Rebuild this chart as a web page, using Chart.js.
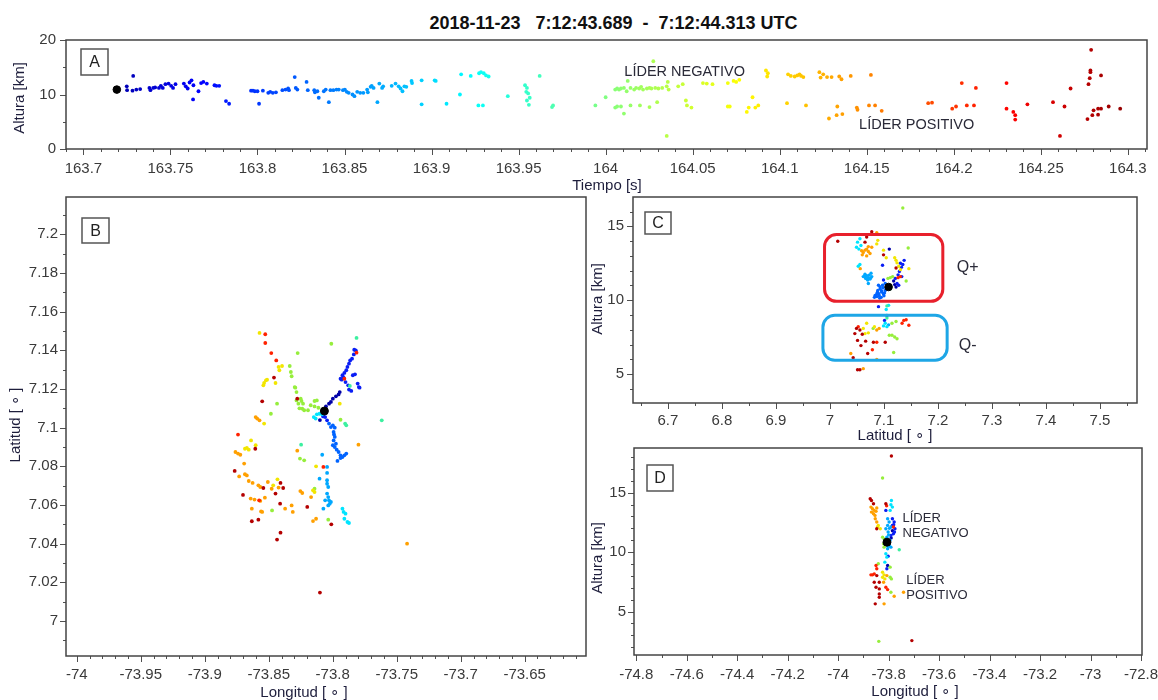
<!DOCTYPE html>
<html><head><meta charset="utf-8">
<script src="https://cdn.jsdelivr.net/npm/chart.js@4.4.1/dist/chart.umd.min.js"></script>
<style>
html,body{margin:0;padding:0;background:#fff;}
body{width:1158px;height:700px;position:relative;overflow:hidden;font-family:"Liberation Sans",Arial,sans-serif;}
canvas{position:absolute;}
#title{position:absolute;left:0;top:13px;width:1227px;text-align:center;font:bold 18px "Liberation Sans",Arial,sans-serif;color:#111;white-space:pre;line-height:20px;}
</style>
</head><body>
<div id="title">2018-11-23   7:12:43.689  -  7:12:44.313 UTC</div>
<canvas id="cA"></canvas><canvas id="cB"></canvas><canvas id="cC"></canvas><canvas id="cD"></canvas>
<script>
// ---------------- DATA ----------------
// Panel A : time [s] vs altitude [km]
const A_time = [
163.7249,163.7251,163.7286,163.7282,163.7304,163.7326,163.7379,163.7385,163.7401,163.7412,163.7434,163.7445,163.7456,163.7471,163.7489,163.7504,163.7515,163.7529,163.7577,163.7588,163.7599,163.7610,163.7621,163.7630,163.7632,163.7661,163.7676,163.7689,163.7709,163.7753,163.7764,163.7780,163.7819,163.7837,
163.7963,163.7974,163.7985,163.8000,163.8009,163.8031,163.8062,163.8073,163.8088,163.8106,163.8143,163.8161,163.8176,163.8181,163.8214,163.8220,163.8229,163.8282,163.8289,163.8326,163.8330,163.8344,163.8352,163.8381,163.8392,163.8410,163.8419,163.8436,163.8454,163.8467,163.8491,163.8502,163.8513,163.8524,163.8546,163.8557,163.8573,163.8590,163.8608,163.8630,163.8634,163.8650,163.8656,163.8667,163.8689,163.8700,163.8716,163.8722,163.8771,163.8793,163.8811,163.8822,163.8833,163.8844,163.8855,163.8885,163.8888,163.8943,163.8943,163.9018,163.9024,163.9086,163.9163,163.9170,163.9225,163.9273,163.9284,163.9300,163.9313,163.9328,163.9295,163.9269,163.9438,163.9537,163.9548,163.9544,163.9555,163.9564,163.9548,163.9559,163.9621,163.9692,163.9698,
163.9941,164.0000,164.0055,164.0066,164.0077,164.0088,164.0105,164.0121,164.0127,164.0143,164.0164,164.0175,164.0193,164.0204,164.0215,164.0237,164.0252,164.0263,164.0274,164.0285,164.0303,164.0325,164.0351,164.0357,164.0362,164.0417,164.0443,164.0055,164.0066,164.0088,164.0105,164.0143,164.0197,164.0252,164.0296,164.0351,164.0461,164.0467,164.0493,
164.0559,164.0581,164.0614,164.0702,164.0735,164.0750,164.0768,164.0702,164.0713,164.0811,164.0822,164.0844,164.0860,164.0877,164.0921,164.0932,164.0928,
164.1042,164.1048,164.1064,164.1086,164.1101,164.1114,164.1123,164.1136,164.1151,164.1228,164.1235,164.1250,164.1272,164.1298,164.1342,164.1355,164.1408,164.1524,164.1283,164.1327,164.1331,164.1360,164.1443,164.1447,164.1513,164.1548,164.1586,164.1853,164.1875,164.1991,164.2013,164.2046,164.2075,164.2116,164.2127,
164.2303,164.2303,164.2342,164.2353,164.2353,164.2423,164.2570,164.2610,164.2636,164.2671,164.2768,164.2796,164.2803,164.2829,164.2829,164.2846,164.2890,164.2956,164.2774,164.2781,164.2785,164.2785,164.2789,164.2846];
const A_alt = [
11.5,10.8,13.4,10.7,10.9,11.0,11.2,10.8,11.2,11.3,11.2,11.6,11.2,11.9,12.0,11.6,11.2,11.9,12.0,11.5,11.1,12.2,12.6,9.1,11.7,10.6,12.1,12.3,12.0,11.7,11.6,11.6,8.8,8.3,
10.7,10.7,10.6,10.6,8.3,10.7,10.3,10.5,10.3,10.4,10.8,10.9,11.1,10.8,13.2,11.2,10.9,12.3,10.8,10.8,10.4,10.6,9.4,10.6,10.9,8.6,10.8,10.8,10.9,10.9,10.8,10.9,10.5,10.3,10.0,9.7,10.5,10.3,10.3,10.9,10.4,11.4,11.6,11.2,8.6,12.0,11.2,11.5,11.6,12.0,11.5,11.1,10.6,11.5,11.4,12.5,12.1,12.6,8.2,12.6,12.5,8.3,10.0,13.7,13.4,13.9,14.1,13.9,13.5,13.3,8.0,8.0,9.7,11.7,11.2,10.5,10.2,9.4,8.9,8.1,13.4,7.7,8.0,
8.0,9.5,10.9,11.1,10.9,11.1,11.2,10.6,12.5,11.2,10.9,11.2,11.1,11.4,10.9,11.1,11.2,11.1,16.1,11.2,11.1,11.2,11.5,12.3,10.9,11.5,11.9,7.6,7.8,7.8,6.5,8.0,8.0,7.7,8.6,2.4,8.9,8.0,7.6,
12.1,12.0,11.9,12.1,12.5,12.3,12.7,7.8,7.8,6.8,7.6,9.5,7.6,8.0,14.4,13.9,13.3,
8.4,13.7,13.4,13.3,13.5,13.7,13.4,13.2,8.0,14.1,13.1,13.7,13.2,13.2,13.3,12.8,13.4,13.6,5.6,6.2,7.8,6.4,7.6,7.2,8.0,8.0,7.0,8.4,8.5,7.4,7.8,12.1,8.0,8.0,11.2,
12.1,7.4,6.8,6.2,5.4,8.2,8.6,2.4,7.8,11.1,5.5,6.2,7.1,6.3,7.4,7.4,7.8,7.4,11.9,13.0,14.1,14.4,18.2,13.5];
const A_origin = [163.7192, 10.9];

// Panel B : longitude vs latitude (grouped by colour of time)
const B_navy = [[-73.8053,7.1110],[-73.8029,7.1124],[-73.8014,7.1133],[-73.7999,7.1150],[-73.7975,7.1162],[-73.7954,7.1172],[-73.7945,7.1184],[-73.8073,7.1090],[-73.8100,7.1039]];
const B_blue = [[-73.7939,7.1253],[-73.7924,7.1271],[-73.7909,7.1283],[-73.7894,7.1297],[-73.7885,7.1314],[-73.7873,7.1331],[-73.7864,7.1348],[-73.7849,7.1357],[-73.7835,7.1379],[-73.7820,7.1400],[-73.7832,7.1403],[-73.7930,7.1248],[-73.7915,7.1259],[-73.7900,7.1236],[-73.7879,7.1219],[-73.7873,7.1197],[-73.7855,7.1190],[-73.7843,7.1271],[-73.7826,7.1276],[-73.7805,7.1228],[-73.7796,7.1210],[-73.7790,7.1207],[-73.8059,7.1055],[-73.8044,7.1038],[-73.8075,7.1058]];
const B_azure = [[-73.8029,7.1021],[-73.8014,7.1003],[-73.7999,7.1012],[-73.7984,7.1000],[-73.7993,7.0978],[-73.7984,7.0952],[-73.7993,7.0934],[-73.7975,7.0917],[-73.7984,7.0900],[-73.7969,7.0886],[-73.7954,7.0874],[-73.7939,7.0857],[-73.7924,7.0848],[-73.7909,7.0857],[-73.7894,7.0866],[-73.7963,7.0828],[-73.7939,7.0843],[-73.7999,7.0909],[-73.7990,7.0965]];
const B_sky = [[-73.8082,7.0860],[-73.8103,7.0736],[-73.8044,7.0797],[-73.8044,7.0766],[-73.8044,7.0728],[-73.8044,7.0710],[-73.8035,7.0693],[-73.8044,7.0659],[-73.8035,7.0641],[-73.8029,7.0624],[-73.8023,7.0607],[-73.8014,7.0616],[-73.8035,7.0598],[-73.8059,7.0624],[-73.8073,7.0581]];
const B_cyan = [[-73.8082,7.1069],[-73.8103,7.1072],[-73.8124,7.1069],[-73.8148,7.1055],[-73.8133,7.1047],[-73.7924,7.0581],[-73.7915,7.0564],[-73.7900,7.0555],[-73.7909,7.0529],[-73.7885,7.0512],[-73.7873,7.0507]];
const B_mint = [[-73.7814,7.1464],[-73.7617,7.1038],[-73.7903,7.1021],[-73.7894,7.1012],[-73.8247,7.0912],[-73.7866,7.1216]];
const B_green = [[-73.8011,7.1434],[-73.8274,7.1386],[-73.8336,7.1319],[-73.8327,7.1288],[-73.8321,7.1266],[-73.8435,7.1124],[-73.8483,7.1072],[-73.8297,7.1210],[-73.8292,7.1207],[-73.8283,7.1184],[-73.8283,7.1141],[-73.8268,7.1124],[-73.8244,7.1138],[-73.8232,7.1124],[-73.8238,7.1098],[-73.8223,7.1090],[-73.8193,7.1090],[-73.8172,7.1116],[-73.8142,7.1138],[-73.8124,7.1141],[-73.8142,7.1110],[-73.8112,7.1103],[-73.8256,7.0840],[-73.8223,7.0831],[-73.8142,7.0684],[-73.8035,7.0524],[-73.8474,7.0572],[-73.7939,7.1041],[-73.8260,7.1100],[-73.8250,7.1150]];
const B_yellow = [[-73.8572,7.1490],[-73.8423,7.1314],[-73.8417,7.1297],[-73.8396,7.1319],[-73.8536,7.1231],[-73.8522,7.1245],[-73.8513,7.1248],[-73.8542,7.1219],[-73.8447,7.1231],[-73.8536,7.1021],[-73.8638,7.0934],[-73.8602,7.0909],[-73.8671,7.0895],[-73.8656,7.0886],[-73.8686,7.0891],[-73.8465,7.0702],[-73.8432,7.0733],[-73.8154,7.0676],[-73.8142,7.0667],[-73.8130,7.0800],[-73.7945,7.1124]];
const B_orange = [[-73.8602,7.1055],[-73.8590,7.1047],[-73.8572,7.1038],[-73.8760,7.0874],[-73.8740,7.0866],[-73.8722,7.0860],[-73.8692,7.0814],[-73.8731,7.0748],[-73.8686,7.0759],[-73.8671,7.0753],[-73.8656,7.0724],[-73.8626,7.0714],[-73.8581,7.0702],[-73.8566,7.0693],[-73.8507,7.0719],[-73.8477,7.0684],[-73.8423,7.0690],[-73.8641,7.0633],[-73.8611,7.0628],[-73.8566,7.0621],[-73.8530,7.0638],[-73.8632,7.0581],[-73.8551,7.0564],[-73.8560,7.0567],[-73.8372,7.0581],[-73.8321,7.0598],[-73.8312,7.0564],[-73.8277,7.0881],[-73.8253,7.0672],[-73.8238,7.0662],[-73.8169,7.0641],[-73.8154,7.0517],[-73.8130,7.0529],[-73.7799,7.0912],[-73.7419,7.0400]];
const B_red = [[-73.8527,7.1483],[-73.8527,7.1438],[-73.8480,7.1386],[-73.8441,7.1348],[-73.8740,7.0964],[-73.8575,7.0624],[-73.8073,7.0797],[-73.7814,7.1388],[-73.7909,7.1253]];
const B_darkred = [[-73.8459,7.1259],[-73.8551,7.1136],[-73.8277,7.1150],[-73.8605,7.0891],[-73.8766,7.0776],[-73.8542,7.0688],[-73.8408,7.0714],[-73.8387,7.0688],[-73.8701,7.0652],[-73.8447,7.0659],[-73.8411,7.0607],[-73.8632,7.0516],[-73.8581,7.0524],[-73.8408,7.0457],[-73.8435,7.0421],[-73.8199,7.0590],[-73.8011,7.0500],[-73.8100,7.0147]];
const B_origin = [-73.8065, 7.1086];

// Panel C : latitude vs altitude
const C_navy = [[7.1099,13.46],[7.1180,11.30],[7.1224,10.90],[7.1055,8.97],[7.1199,11.06]];
const C_blue = [[7.0974,12.37],[7.1374,12.70],[7.1349,12.42],[7.1324,12.23],[7.1286,11.95],[7.1261,11.72],[7.1211,11.48],[7.1242,11.13],[7.1274,11.02],[7.0899,9.57],[7.1011,8.64],[7.0992,11.37],[7.1305,12.50],[7.1330,11.60]];
const C_azure = [[7.0899,11.02],[7.0930,10.78],[7.0886,10.67],[7.0961,10.55],[7.0867,10.43],[7.0836,10.32],[7.0911,10.32],[7.0992,10.43],[7.0949,10.20],[7.1024,10.67],[7.0824,10.20],[7.0974,11.02],[7.1024,11.13],[7.0930,10.90],[7.0880,10.55],[7.1000,10.30],[7.0905,10.45],[7.0955,10.65],[7.0870,10.25],[7.0985,10.85],[7.0920,10.15],[7.1010,10.50]];
const C_sky = [[7.0649,11.76],[7.0617,11.60],[7.0680,11.67],[7.0711,11.53],[7.0742,11.44],[7.0774,11.60],[7.0699,11.37],[7.0661,11.48],[7.0761,11.83],[7.0711,11.13],[7.1086,8.34],[7.0680,11.45],[7.0725,11.70],[7.0640,11.62],[7.0755,11.50]];
const C_cyan = [[7.0555,14.16],[7.0511,13.93],[7.0574,13.70],[7.0492,13.58],[7.0536,13.46],[7.0555,12.42],[7.0524,12.30],[7.1042,9.38],[7.1024,8.45],[7.1055,8.22],[7.0992,8.27],[7.1086,9.66]];
const C_mint = [[7.1055,9.62],[7.1055,8.80],[7.1117,10.78]];
const C_green = [[7.1449,13.53],[7.1117,11.53],[7.1161,11.60],[7.1074,11.48],[7.1411,11.30],[7.1224,8.57],[7.1149,8.45],[7.1099,7.64],[7.1149,7.64],[7.1199,7.52],[7.1242,7.40],[7.1180,6.47],[7.1349,16.24],[7.0800,8.10]];
const C_yellow = [[7.0886,14.05],[7.0867,13.81],[7.0992,13.39],[7.1042,12.88],[7.1199,12.88],[7.1224,12.70],[7.1242,12.53],[7.1274,12.30],[7.1305,12.07],[7.1461,12.14],[7.0680,8.45],[7.0617,8.10],[7.0649,7.75],[7.0711,7.80],[7.0824,8.22]];
const C_orange = [[7.0867,14.56],[7.0586,13.35],[7.0617,13.23],[7.0649,13.39],[7.0680,13.46],[7.0711,13.30],[7.0742,13.16],[7.0599,13.07],[7.0680,13.00],[7.0774,13.58],[7.0711,13.63],[7.0561,12.14],[7.0867,7.99],[7.0911,8.10],[7.0386,6.40],[7.0867,6.00],[7.0617,5.38]];
const C_red = [[7.1261,11.53],[7.1305,11.60],[7.1367,8.64],[7.1411,8.69],[7.1336,8.45],[7.1461,8.31],[7.0524,8.22],[7.0867,7.17],[7.0786,6.66]];
const C_darkred = [[7.0774,14.63],[7.0145,13.99],[7.0680,14.28],[7.0649,13.93],[7.0992,13.07],[7.1224,12.18],[7.0492,8.10],[7.0555,7.99],[7.0461,7.75],[7.0599,7.71],[7.0511,7.29],[7.0661,7.24],[7.0805,7.17],[7.0574,6.94],[7.0699,6.40],[7.1024,7.17],[7.0430,6.12],[7.0511,5.31],[7.0555,5.31]];
const C_origin = [7.1086, 10.9];

// Panel D : longitude vs altitude
const D_navy = [[-73.804,8.88],[-73.790,11.20],[-73.785,11.80]];
const D_blue = [[-73.811,13.51],[-73.785,12.81],[-73.778,12.53],[-73.785,12.25],[-73.775,11.97],[-73.781,11.54],[-73.791,11.40],[-73.802,9.66],[-73.807,8.60],[-73.780,12.30],[-73.777,11.70]];
const D_sky = [[-73.804,12.81],[-73.798,12.53],[-73.804,12.25],[-73.811,11.97],[-73.802,11.69],[-73.791,12.11],[-73.807,11.26],[-73.798,10.56],[-73.804,10.28],[-73.791,10.42],[-73.800,10.80],[-73.795,11.00],[-73.800,11.45],[-73.797,12.00],[-73.803,10.50]];
const D_cyan = [[-73.789,14.35],[-73.791,13.99],[-73.785,13.79],[-73.794,13.51],[-73.811,9.86],[-73.807,9.58],[-73.815,9.16]];
const D_mint = [[-73.758,10.20]];
const D_green = [[-73.824,16.24],[-73.824,11.26],[-73.820,10.70],[-73.818,10.42],[-73.841,9.02],[-73.794,8.74],[-73.794,7.89],[-73.789,7.75],[-73.791,6.63],[-73.839,2.50],[-73.815,10.90],[-73.812,10.60],[-73.818,11.10]];
const D_yellow = [[-73.841,12.25],[-73.844,12.11],[-73.833,11.97],[-73.824,8.31],[-73.818,8.09],[-73.824,7.89],[-73.815,7.75]];
const D_orange = [[-73.870,13.79],[-73.864,13.65],[-73.857,13.51],[-73.868,13.37],[-73.860,13.23],[-73.850,13.43],[-73.854,13.09],[-73.847,13.71],[-73.853,12.81],[-73.847,12.53],[-73.807,8.03],[-73.778,6.29],[-73.741,6.63],[-73.818,5.65],[-73.820,7.47]];
const D_red = [[-73.781,12.11],[-73.850,8.88],[-73.847,8.60],[-73.857,8.17],[-73.864,8.09],[-73.870,8.09],[-73.811,7.05],[-73.804,6.85],[-73.808,13.90]];
const D_darkred = [[-73.873,14.49],[-73.868,14.35],[-73.860,14.07],[-73.811,14.07],[-73.847,11.97],[-73.847,8.03],[-73.857,7.47],[-73.837,7.47],[-73.850,7.05],[-73.837,6.91],[-73.837,6.49],[-73.837,6.21],[-73.853,5.65],[-73.708,2.56],[-73.789,18.09]];
const D_origin = [-73.8065, 10.84];

// Tick labels
const A_xTicks = [163.7,163.75,163.8,163.85,163.9,163.95,164,164.05,164.1,164.15,164.2,164.25,164.3];
const A_yTicks = [0,10,20];
const B_xTicks = [-74,-73.95,-73.9,-73.85,-73.8,-73.75,-73.7,-73.65];
const B_yTicks = [7,7.02,7.04,7.06,7.08,7.1,7.12,7.14,7.16,7.18,7.2];
const C_xTicks = [6.7,6.8,6.9,7,7.1,7.2,7.3,7.4,7.5];
const C_yTicks = [5,10,15];
const D_xTicks = [-74.8,-74.6,-74.4,-74.2,-74,-73.8,-73.6,-73.4,-73.2,-73,-72.8];
const D_yTicks = [5,10,15];

// ---------------- STYLE / DRAWING ----------------
const FONT = '"Liberation Sans", Arial, Helvetica, sans-serif';
const GROUP_COLORS = {navy:'#0000a8', blue:'#0a1ef5', azure:'#0064ff', sky:'#00a8ff', cyan:'#00e4ff', mint:'#3cf0a0', green:'#96ee3c', yellow:'#f2e600', orange:'#ffa000', red:'#ff2200', darkred:'#b40000'};
const ORDER = ['darkred','red','orange','yellow','green','mint','cyan','sky','azure','blue','navy'];
const COLOR_T0 = 163.69, COLOR_T1 = 164.31;
function jet(t){
  const v = (t-COLOR_T0)/(COLOR_T1-COLOR_T0);
  const c = x => Math.round(255*Math.max(0,Math.min(1,x)));
  return `rgb(${c(1.5-Math.abs(4*v-3))},${c(1.5-Math.abs(4*v-2))},${c(1.5-Math.abs(4*v-1))})`;
}
function fmt(v){ return String(Math.round(v*1000)/1000); }
function groupDatasets(groups, r){
  return ORDER.filter(k=>groups[k]).map(k=>({data:groups[k].map(p=>({x:p[0],y:p[1]})), pointRadius:r, pointBackgroundColor:GROUP_COLORS[k], pointBorderWidth:0, pointHoverRadius:r}));
}
function originDataset(p, r){
  return {data:[{x:p[0],y:p[1]}], pointRadius:r, pointBackgroundColor:'#000', pointBorderColor:'#000', pointBorderWidth:1, pointHoverRadius:r};
}
function steps(min,max,step){
  const out=[]; const k0=Math.ceil(min/step-1e-7), k1=Math.floor(max/step+1e-7);
  for(let k=k0;k<=k1;k++) out.push(k*step); return out;
}

const deco = {
  id:'deco',
  afterDatasetsDraw(chart, args, o){
    const {ctx, scales:{x,y}} = chart;
    ctx.save();
    (o.boxes||[]).forEach(b=>{
      const x1=x.getPixelForValue(b.x1), x2=x.getPixelForValue(b.x2), y1=y.getPixelForValue(b.y2), y2=y.getPixelForValue(b.y1);
      ctx.beginPath(); ctx.roundRect(x1,y1,x2-x1,y2-y1,12); ctx.lineWidth=3; ctx.strokeStyle=b.color; ctx.stroke();
    });
    ctx.restore();
  },
  afterDraw(chart, args, o){
    const {ctx, chartArea:a, scales:{x,y}} = chart;
    const ox=o.ox, oy=o.oy;
    ctx.save();
    ctx.strokeStyle='#505050'; ctx.lineWidth=1;
    const isMaj=(v,arr,st)=>arr.some(m=>Math.abs(m-v)<st*1e-3);
    steps(x.min,x.max,o.xMinor).forEach(v=>{
      const px=Math.round(x.getPixelForValue(v))+0.5, len=isMaj(v,o.xMajor,o.xMinor)?6:3;
      ctx.beginPath(); ctx.moveTo(px,a.bottom); ctx.lineTo(px,a.bottom+len); ctx.stroke();
    });
    steps(y.min,y.max,o.yMinor).forEach(v=>{
      const py=Math.round(y.getPixelForValue(v))+0.5, len=isMaj(v,o.yMajor,o.yMinor)?6:3;
      ctx.beginPath(); ctx.moveTo(a.left,py); ctx.lineTo(a.left-len,py); ctx.stroke();
    });
    ctx.strokeStyle='#444'; ctx.lineWidth=1.5;
    ctx.strokeRect(a.left,a.top,a.right-a.left,a.bottom-a.top);
    const L=o.label;
    ctx.lineWidth=1.5; ctx.strokeStyle='#555'; ctx.fillStyle='#fff';
    ctx.fillRect(L.x1-ox,L.y1-oy,L.x2-L.x1,L.y2-L.y1);
    ctx.strokeRect(L.x1-ox,L.y1-oy,L.x2-L.x1,L.y2-L.y1);
    ctx.fillStyle='#222'; ctx.font='16px '+FONT; ctx.textAlign='center'; ctx.textBaseline='middle';
    ctx.fillText(L.text,(L.x1+L.x2)/2-ox,(L.y1+L.y2)/2-oy+1);
    (o.notes||[]).forEach(n=>{
      ctx.font=n.size+'px '+FONT; ctx.fillStyle='#2a2a38'; ctx.textAlign=n.align||'center'; ctx.textBaseline='middle';
      ctx.fillText(n.text,x.getPixelForValue(n.x),y.getPixelForValue(n.y));
    });
    ctx.fillStyle='#1e1e3c'; ctx.font='15px '+FONT; ctx.textAlign='center'; ctx.textBaseline='middle';
    (o.titles||[]).forEach(t=>{
      ctx.save(); ctx.translate(t.x-ox,t.y-oy); if(t.rot) ctx.rotate(-Math.PI/2); ctx.fillText(t.text,0,0); ctx.restore();
    });
    ctx.restore();
  }
};

function panel(id, c){
  const el=document.getElementById(id);
  el.style.left=c.cx+'px'; el.style.top=c.cy+'px'; el.width=c.cw; el.height=c.ch;
  const padL=c.L-c.cx, padT=c.T-c.cy, padR=c.cx+c.cw-c.R, padB=c.cy+c.ch-c.B;
  const tickFont={family:FONT,size:15};
  new Chart(el,{
    type:'scatter',
    data:{datasets:c.datasets},
    options:{
      responsive:false, animation:false, devicePixelRatio:1, events:[],
      layout:{padding:{left:0,top:padT,right:padR,bottom:0}, autoPadding:false},
      plugins:{legend:{display:false}, tooltip:{enabled:false},
        deco:Object.assign({ox:c.cx,oy:c.cy},c.deco)},
      scales:{
        x:{type:'linear',min:c.xMin,max:c.xMax,grid:{display:false,drawTicks:false},border:{display:false},
          ticks:{autoSkip:false,maxRotation:0,padding:c.xPad,color:'#3a3a3a',font:tickFont,callback:v=>fmt(v)},
          afterBuildTicks:s=>{s.ticks=c.xTicks.map(v=>({value:v}));},
          afterFit:s=>{s.height=padB; s.paddingLeft=0; s.paddingRight=0;}},
        y:{type:'linear',min:c.yMin,max:c.yMax,grid:{display:false,drawTicks:false},border:{display:false},
          ticks:{autoSkip:false,padding:c.yPad,color:'#3a3a3a',font:tickFont,callback:v=>fmt(v)},
          afterBuildTicks:s=>{s.ticks=c.yTicks.map(v=>({value:v}));},
          afterFit:s=>{s.width=padL; s.paddingTop=0; s.paddingBottom=0;}}
      }
    },
    plugins:[deco]
  });
}

panel('cA',{cx:0,cy:30,cw:1158,ch:165,L:66,R:1147,T:40,B:149,
  xMin:163.690,xMax:164.311,yMin:0,yMax:20,xTicks:A_xTicks,yTicks:A_yTicks,xPad:11,yPad:10,
  datasets:[originDataset(A_origin,3.8),
    {data:A_time.map((t,i)=>({x:t,y:A_alt[i]})),pointRadius:1.9,pointBorderWidth:0,pointHoverRadius:1.9,
     pointBackgroundColor:ctx=>ctx.raw?jet(ctx.raw.x):'#000'}],
  deco:{xMinor:0.01,yMinor:5,xMajor:A_xTicks,yMajor:A_yTicks,
    label:{text:'A',x1:81,y1:49,x2:108,y2:75},
    notes:[{text:'LÍDER NEGATIVO',x:164.0454,y:14.2,size:14.5},{text:'LÍDER POSITIVO',x:164.1787,y:4.4,size:14.5}],
    titles:[{text:'Altura [km]',x:20,y:98,rot:true},{text:'Tiempo [s]',x:607,y:186}]}
});

panel('cB',{cx:0,cy:187,cw:588,ch:513,L:66,R:586,T:197,B:656,
  xMin:-74.0084,xMax:-73.6021,yMin:6.9819,yMax:7.2193,xTicks:B_xTicks,yTicks:B_yTicks,xPad:10,yPad:8,
  datasets:[originDataset(B_origin,4)].concat(groupDatasets({navy:B_navy,blue:B_blue,azure:B_azure,sky:B_sky,cyan:B_cyan,mint:B_mint,green:B_green,yellow:B_yellow,orange:B_orange,red:B_red,darkred:B_darkred},1.9)),
  deco:{xMinor:0.01,yMinor:0.01,xMajor:B_xTicks,yMajor:B_yTicks,
    label:{text:'B',x1:82,y1:218,x2:109,y2:243},
    titles:[{text:'Latitud [ ∘ ]',x:16,y:425,rot:true},{text:'Longitud [ ∘ ]',x:304,y:693}]}
});

panel('cC',{cx:588,cy:187,cw:570,ch:258,L:633,R:1137,T:197,B:403,
  xMin:6.6354,xMax:7.5685,yMin:3.06,yMax:16.98,xTicks:C_xTicks,yTicks:C_yTicks,xPad:9,yPad:9,
  datasets:[originDataset(C_origin,3.8)].concat(groupDatasets({navy:C_navy,blue:C_blue,azure:C_azure,sky:C_sky,cyan:C_cyan,mint:C_mint,green:C_green,yellow:C_yellow,orange:C_orange,red:C_red,darkred:C_darkred},1.7)),
  deco:{xMinor:0.05,yMinor:1,xMajor:C_xTicks,yMajor:C_yTicks,
    label:{text:'C',x1:645,y1:212,x2:671,y2:234},
    boxes:[{x1:6.990,x2:7.209,y1:9.93,y2:14.44,color:'#e8202c'},{x1:6.987,x2:7.217,y1:5.95,y2:8.99,color:'#1ea6e6'}],
    notes:[{text:'Q+',x:7.255,y:12.2,size:16},{text:'Q-',x:7.255,y:6.96,size:16}],
    titles:[{text:'Altura [km]',x:598,y:299,rot:true},{text:'Latitud [ ∘ ]',x:895,y:436}]}
});

panel('cD',{cx:588,cy:445,cw:570,ch:255,L:634,R:1142,T:448,B:655,
  xMin:-74.809,xMax:-72.796,yMin:1.35,yMax:18.76,xTicks:D_xTicks,yTicks:D_yTicks,xPad:11,yPad:8,
  datasets:[originDataset(D_origin,4)].concat(groupDatasets({navy:D_navy,blue:D_blue,sky:D_sky,cyan:D_cyan,mint:D_mint,green:D_green,yellow:D_yellow,orange:D_orange,red:D_red,darkred:D_darkred},1.7)),
  deco:{xMinor:0.1,yMinor:1,xMajor:D_xTicks,yMajor:D_yTicks,
    label:{text:'D',x1:647,y1:465,x2:673,y2:491},
    notes:[{text:'LÍDER',x:-73.745,y:12.8,size:13,align:'left'},{text:'NEGATIVO',x:-73.745,y:11.6,size:13,align:'left'},
           {text:'LÍDER',x:-73.73,y:7.6,size:13,align:'left'},{text:'POSITIVO',x:-73.73,y:6.4,size:13,align:'left'}],
    titles:[{text:'Altura [km]',x:598,y:558,rot:true},{text:'Longitud [ ∘ ]',x:915,y:692}]}
});
</script>
</body></html>
